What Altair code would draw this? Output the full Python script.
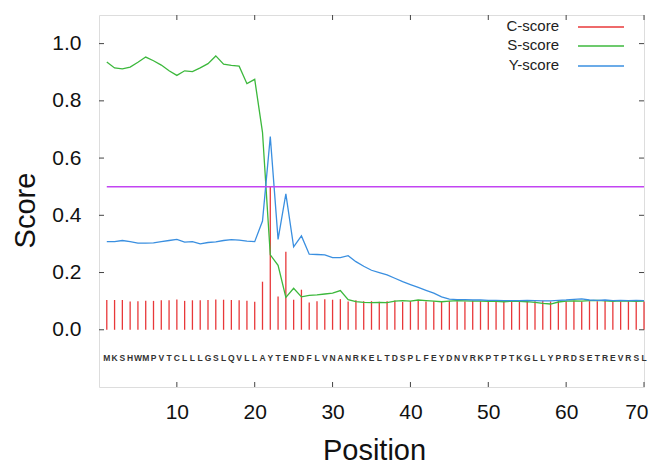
import altair as alt
import pandas as pd

sequence = "MKSHWMPVTCLLLGSLQVLLAYTENDFLVNANRKELTDSPLFEYDNVRKPTPTKGLLYPRDSETREVRSL"
positions = list(range(1, 71))

c_score = [0.104, 0.104, 0.104, 0.099, 0.100, 0.101, 0.101, 0.103, 0.103, 0.106,
           0.101, 0.103, 0.103, 0.104, 0.106, 0.105, 0.104, 0.103, 0.101, 0.098,
           0.168, 0.500, 0.116, 0.273, 0.105, 0.140, 0.095, 0.100, 0.107, 0.105,
           0.107, 0.099, 0.103, 0.100, 0.100, 0.098, 0.100, 0.102, 0.097, 0.100,
           0.101, 0.099, 0.100, 0.100, 0.101, 0.100, 0.099, 0.101, 0.100, 0.099,
           0.100, 0.101, 0.099, 0.100, 0.098, 0.100, 0.101, 0.099, 0.100, 0.100,
           0.101, 0.099, 0.100, 0.100, 0.101, 0.100, 0.099, 0.100, 0.100, 0.099]

s_score = [0.936, 0.915, 0.912, 0.918, 0.935, 0.953, 0.940, 0.925, 0.905, 0.889,
           0.905, 0.902, 0.915, 0.930, 0.957, 0.928, 0.924, 0.921, 0.860, 0.875,
           0.690, 0.262, 0.225, 0.113, 0.145, 0.115, 0.120, 0.122, 0.125, 0.128,
           0.137, 0.105, 0.098, 0.096, 0.095, 0.096, 0.095, 0.100, 0.102, 0.100,
           0.104, 0.102, 0.100, 0.098, 0.100, 0.102, 0.101, 0.100, 0.100, 0.099,
           0.099, 0.098, 0.100, 0.099, 0.098, 0.096, 0.092, 0.090, 0.097, 0.100,
           0.101, 0.100, 0.102, 0.103, 0.101, 0.099, 0.101, 0.100, 0.099, 0.100]

y_score = [0.308, 0.308, 0.312, 0.308, 0.303, 0.303, 0.304, 0.308, 0.312, 0.316,
           0.306, 0.308, 0.300, 0.305, 0.307, 0.312, 0.315, 0.313, 0.310, 0.308,
           0.380, 0.675, 0.316, 0.475, 0.290, 0.328, 0.264, 0.263, 0.262, 0.252,
           0.252, 0.259, 0.238, 0.222, 0.208, 0.200, 0.192, 0.180, 0.168, 0.158,
           0.148, 0.138, 0.128, 0.115, 0.107, 0.105, 0.105, 0.104, 0.104, 0.103,
           0.103, 0.102, 0.102, 0.102, 0.103, 0.102, 0.101, 0.101, 0.103, 0.104,
           0.106, 0.108, 0.104, 0.103, 0.104, 0.102, 0.103, 0.102, 0.103, 0.102]

cutoff = 0.5
seq_y = -0.098
x_ticks = [10, 20, 30, 40, 50, 60, 70]
y_ticks = [0.0, 0.2, 0.4, 0.6, 0.8, 1.0]
legend_labels = ["C-score", "S-score", "Y-score"]
colors = ["#e8383a", "#3cb83c", "#3a8fe0"]
cutoff_color = "#c244f2"
frame_color = "#444444"

W, H = 545, 372

df = pd.DataFrame({
    "pos": positions,
    "letter": list(sequence),
    "c": c_score,
    "s": s_score,
    "y": y_score,
})
df_cut = pd.DataFrame({"x1": [positions[0]], "x2": [positions[-1]], "v": [cutoff]})
df_xt = pd.DataFrame({"t": x_ticks})
df_yt = pd.DataFrame({"t": y_ticks})

xscale = alt.Scale(domain=[0, 70], nice=False, zero=False)
yscale = alt.Scale(domain=[-0.2, 1.1], nice=False, zero=False)

xaxis = alt.Axis(values=x_ticks, title="Position", grid=False, ticks=False, tickSize=0,
                 domain=False, labelFontSize=21, labelPadding=14, labelFlush=True,
                 labelFlushOffset=4,
                 labelColor="#111111", titleFontSize=29, titleFontWeight="normal",
                 titleColor="#111111", titleX=275, titleY=63, titleBaseline="middle")
yaxis = alt.Axis(values=y_ticks, format=".1f", title="Score", grid=False, ticks=False,
                 tickSize=0, domain=False, labelFontSize=21, labelPadding=18,
                 labelFlush=False, labelColor="#111111", titleFontSize=29,
                 titleFontWeight="normal", titleColor="#111111", titleX=-74,
                 titleY=195, titleBaseline="middle")


def X(f):
    return alt.X(f, type="quantitative", scale=xscale, axis=xaxis)


def Y(f):
    return alt.Y(f, type="quantitative", scale=yscale, axis=yaxis)


base = alt.Chart(df)

c_rules = base.mark_rule(color=colors[0], strokeWidth=1.3).encode(
    x=X("pos"), y=Y("c"), y2=alt.datum(0))
s_line = base.mark_line(color=colors[1], strokeWidth=1.3).encode(x=X("pos"), y=Y("s"))
y_line = base.mark_line(color=colors[2], strokeWidth=1.3).encode(x=X("pos"), y=Y("y"))
cut = alt.Chart(df_cut).mark_rule(color=cutoff_color, strokeWidth=1.6).encode(
    x=X("x1"), x2="x2", y=Y("v"))
letters = base.mark_text(fontSize=8.5, fontWeight="bold", color="#333333",
                         baseline="middle", font="Liberation Sans").encode(
    x=X("pos"), y=alt.datum(seq_y), text="letter")

tick_bottom = alt.Chart(df_xt).mark_rule(color=frame_color, strokeWidth=1).encode(
    x=X("t"), y=alt.value(H), y2=alt.value(H - 5))
tick_top = alt.Chart(df_xt).mark_rule(color=frame_color, strokeWidth=1).encode(
    x=X("t"), y=alt.value(0), y2=alt.value(5))
tick_left = alt.Chart(df_yt).mark_rule(color=frame_color, strokeWidth=1).encode(
    y=Y("t"), x=alt.value(0), x2=alt.value(5))
tick_right = alt.Chart(df_yt).mark_rule(color=frame_color, strokeWidth=1).encode(
    y=Y("t"), x=alt.value(W), x2=alt.value(W - 5))

legend_layers = []
row_y = [11, 30, 50]
for i, lab in enumerate(legend_labels):
    ldf = pd.DataFrame({"label": [lab]})
    legend_layers.append(alt.Chart(ldf).mark_text(
        align="right", baseline="middle", fontSize=15, color="#222222",
        font="Liberation Sans").encode(
        text="label", x=alt.value(460), y=alt.value(row_y[i])))
    legend_layers.append(alt.Chart(ldf).mark_rule(color=colors[i], strokeWidth=1.3).encode(
        x=alt.value(479), x2=alt.value(525), y=alt.value(row_y[i] + 1)))

chart = alt.layer(
    c_rules, s_line, y_line, cut, letters,
    tick_bottom, tick_top, tick_left, tick_right,
    *legend_layers
).properties(
    width=W, height=H,
    autosize=alt.AutoSizeParams(type="none"),
    padding={"left": 91, "top": 7, "right": 5, "bottom": 78},
).configure_view(
    stroke=frame_color, strokeWidth=1.5
).configure(
    font="Liberation Sans", background="white"
)

chart.save("out.html", embed_options={"renderer": "svg", "actions": False})
